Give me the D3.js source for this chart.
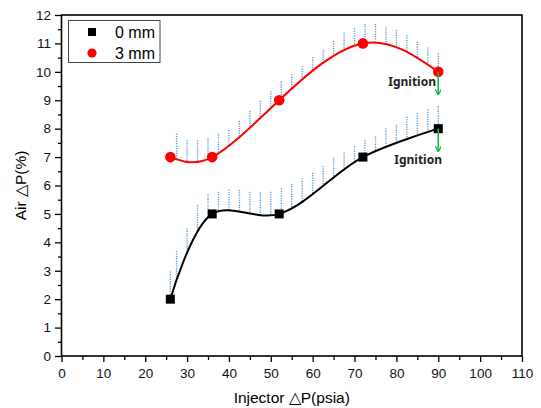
<!DOCTYPE html>
<html lang="en">
<head>
<meta charset="UTF-8">
<title>Air dP vs Injector dP</title>
<script src="https://d3js.org/d3.v7.min.js"></script>
<style>
  body { margin: 0; background: #fff; }
  text { font-family: "Liberation Sans", Arial, sans-serif; }
</style>
</head>
<body>
<div id="chart"></div>
<script>

// measured points
const injectorDP = [26, 36, 52, 72, 90];
const air0mm = [2, 5, 5, 7, 8];
const air3mm = [7, 7, 9, 11, 10];

// dotted upper band (x positions and top values)
const band0X   = [26, 27.5, 30, 32.5, 35, 37.5, 40, 42.5, 45, 47.5, 50, 52.5, 55, 57.5, 60, 62.5, 65, 67.5, 70, 72.5, 75, 77.5, 80, 82.5, 85, 87.5, 90];
const band0Top = [2.97, 3.69, 4.49, 5.31, 5.70, 5.78, 5.86, 5.84, 5.78, 5.75, 5.78, 5.90, 6.05, 6.25, 6.45, 6.69, 6.96, 7.17, 7.39, 7.60, 7.72, 8.01, 8.13, 8.42, 8.54, 8.68, 8.80];
const band3X   = [27.5, 30, 32.5, 35, 37.5, 40, 42.5, 45, 47.5, 50, 52.5, 55, 57.5, 60, 62.5, 65, 67.5, 70, 72.5, 75, 77.5, 80, 82.5, 85, 87.5, 90];
const band3Top = [7.83, 7.58, 7.58, 7.66, 7.80, 7.95, 8.28, 8.63, 8.98, 9.32, 9.65, 9.91, 10.2, 10.51, 10.79, 11.09, 11.38, 11.53, 11.68, 11.68, 11.59, 11.47, 11.29, 11.06, 10.86, 10.65];

const xTicks = d3.range(0, 111, 10);
const yTicks = d3.range(0, 13, 1);

const W = 541, H = 408;
const margin = {top: 15, right: 19, bottom: 52, left: 61.5};

const svg = d3.select("#chart").append("svg")
  .attr("width", W).attr("height", H);

const x = d3.scaleLinear().domain([0, 110]).range([margin.left, W - margin.right]);
const y = d3.scaleLinear().domain([0, 12]).range([H - margin.bottom, margin.top]);

// axes with outward ticks
svg.append("g")
  .attr("transform", `translate(0,${y(0)})`)
  .call(d3.axisBottom(x).tickValues(xTicks).tickSize(6).tickPadding(6));
svg.append("g")
  .attr("transform", `translate(0,${y(0)})`)
  .call(d3.axisBottom(x).tickValues(d3.range(5, 110, 10)).tickSize(4).tickFormat(""));

svg.append("g")
  .attr("transform", `translate(${x(0)},0)`)
  .call(d3.axisLeft(y).tickValues(yTicks).tickSize(6.5).tickPadding(4));
svg.append("g")
  .attr("transform", `translate(${x(0)},0)`)
  .call(d3.axisLeft(y).tickValues(d3.range(0.5, 12, 1)).tickSize(3.5).tickFormat(""));

svg.selectAll(".domain").remove();
svg.selectAll(".tick line").attr("stroke", "#000").attr("stroke-width", 1.3);
svg.selectAll(".tick text").attr("font-size", 13.5).attr("fill", "#111")
  .style("font-family", "'Liberation Sans', Arial, sans-serif");

// frame
svg.append("rect")
  .attr("x", x(0)).attr("y", y(12))
  .attr("width", x(110) - x(0)).attr("height", y(0) - y(12))
  .attr("fill", "none").attr("stroke", "#000").attr("stroke-width", 1.6);

// axis titles
svg.append("text")
  .attr("x", (x(0) + x(110)) / 2).attr("y", 403)
  .attr("text-anchor", "middle").attr("font-size", 15.5)
  .text("Injector \u25B3P(psia)");
svg.append("text")
  .attr("transform", `translate(26,${(y(0) + y(12)) / 2}) rotate(-90)`)
  .attr("text-anchor", "middle").attr("font-size", 15.5)
  .text("Air \u25B3P(%)");

const series = [
  {pts: d3.zip(injectorDP, air0mm), color: "#000", bandX: band0X, bandTop: band0Top, curve: d3.curveCatmullRom.alpha(0.5)},
  {pts: d3.zip(injectorDP, air3mm), color: "#ff0000", bandX: band3X, bandTop: band3Top, curve: d3.curveNatural}
];

// curves, sampled afterwards so the band lines can stop on them
series.forEach(s => {
  const line = d3.line().x(d => x(d[0])).y(d => y(d[1])).curve(s.curve);
  s.path = svg.append("path")
    .attr("d", line(s.pts))
    .attr("fill", "none").attr("stroke", s.color).attr("stroke-width", 2);
  const node = s.path.node();
  const len = node.getTotalLength();
  const samples = [];
  for (let l = 0; l <= len; l += 0.5) samples.push(node.getPointAtLength(l));
  s.yAt = px => {
    let best = samples[0];
    samples.forEach(p => { if (Math.abs(p.x - px) < Math.abs(best.x - px)) best = p; });
    return best.y;
  };
});

// dotted band lines, beneath the curves
series.forEach(s => {
  const g = svg.insert("g", "path");
  g.selectAll("line")
    .data(d3.zip(s.bandX, s.bandTop))
    .join("line")
      .attr("x1", d => x(d[0])).attr("x2", d => x(d[0]))
      .attr("y1", d => y(d[1]))
      .attr("y2", d => s.yAt(x(d[0])))
      .attr("stroke", "#5b9bd5")
      .attr("stroke-width", 1.4)
      .attr("stroke-dasharray", "1.2,1.2");
});

// markers
svg.append("g").selectAll("rect")
  .data(series[0].pts)
  .join("rect")
    .attr("x", d => x(d[0]) - 4.5).attr("y", d => y(d[1]) - 4.5)
    .attr("width", 9).attr("height", 9).attr("fill", "#000");
svg.append("g").selectAll("circle")
  .data(series[1].pts)
  .join("circle")
    .attr("cx", d => x(d[0])).attr("cy", d => y(d[1]))
    .attr("r", 5.3).attr("fill", "#ff0000");

// ignition arrows
const green = "#1fae4b";
svg.append("defs").append("marker")
  .attr("id", "arrow").attr("viewBox", "0 0 10 10")
  .attr("refX", 9).attr("refY", 5)
  .attr("markerWidth", 6).attr("markerHeight", 6)
  .attr("markerUnits", "userSpaceOnUse")
  .attr("orient", "auto")
  .append("path").attr("d", "M0,0 L10,5 L0,10").attr("fill", "none")
  .attr("stroke", green).attr("stroke-width", 2);

const ignition = [
  {x: 90, from: 10, to: 9.2, tx: 436, ty: 86},
  {x: 90, from: 8, to: 7.2, tx: 442, ty: 164}
];
ignition.forEach(a => {
  svg.append("line")
    .attr("x1", x(a.x)).attr("x2", x(a.x))
    .attr("y1", y(a.from)).attr("y2", y(a.to))
    .attr("stroke", green).attr("stroke-width", 1.6)
    .attr("marker-end", "url(#arrow)");
  svg.append("text")
    .attr("x", a.tx).attr("y", a.ty)
    .attr("text-anchor", "end")
    .attr("font-size", 12).attr("font-weight", "bold")
    .style("font-family", "'Noto Sans', 'DejaVu Sans', sans-serif")
    .attr("fill", "#222")
    .text("Ignition");
});

// legend
const legend = svg.append("g");
legend.append("rect")
  .attr("x", 68.5).attr("y", 20.5).attr("width", 91.5).attr("height", 42)
  .attr("fill", "#fff").attr("stroke", "#444").attr("stroke-width", 1);
legend.append("rect")
  .attr("x", 88).attr("y", 28).attr("width", 8).attr("height", 8).attr("fill", "#000");
legend.append("circle")
  .attr("cx", 92).attr("cy", 53).attr("r", 4.6).attr("fill", "#ff0000");
legend.append("text").attr("x", 115).attr("y", 38).attr("font-size", 16).text("0 mm");
legend.append("text").attr("x", 115).attr("y", 59).attr("font-size", 16).text("3 mm");

</script>
</body>
</html>
